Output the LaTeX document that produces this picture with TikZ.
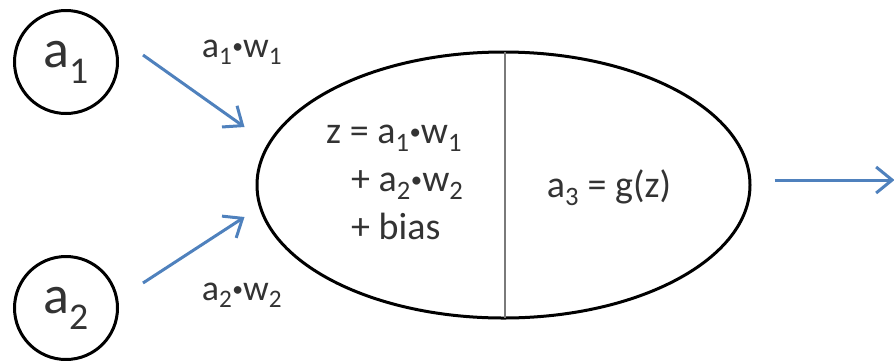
\documentclass[tikz,border=0pt]{standalone}
\usepackage{fontspec}
\setmainfont{Carlito}
\usepackage{tikz}
\usetikzlibrary{shapes.geometric, arrows.meta, calc}
\definecolor{nnblue}{RGB}{79,129,189}
\definecolor{nntext}{HTML}{333333}
\definecolor{nnrule}{HTML}{7A7A7A}
\newcommand{\lowsub}[1]{\textsubscript{#1}}
\newcommand{\mdot}{\raisebox{0.1em}{\scalebox{0.6}{\textbullet}}}

\begin{document}
\begin{tikzpicture}[
    x=1pt, y=-1pt,
    inp/.style={draw,circle,line width=3pt,minimum size=103pt,inner sep=0pt,text=nntext,font=\fontsize{54}{60}\selectfont},
    cell/.style={draw,ellipse,line width=3pt,minimum width=493pt,minimum height=266pt,inner sep=0pt},
    lbl/.style={text=nntext,inner sep=0pt,font=\fontsize{36}{42}\selectfont},
    sig/.style={-{Straight Barb[length=16pt,width=26pt]},line width=3pt,nnblue},
  ]
    \useasboundingbox (0,0) rectangle (894,360);
    \node[inp] (a1) at (66,62) {a\lowsub{1}};
    \node[inp] (a2) at (66,308) {a\lowsub{2}};
    \node[cell] (neuron) at (503.5,185) {};
    \draw[line width=2pt,nnrule] (505,52) -- (505,318);
    \node[lbl, anchor=west, align=left, font=\fontsize{38}{48}\selectfont] (sum) at (326,182)
      {z = a\lowsub{1}\mdot w\lowsub{1}\\\hspace*{25pt}+ a\lowsub{2}\mdot w\lowsub{2}\\\hspace*{25pt}+ bias};
    \node[lbl, anchor=base, font=\fontsize{38}{48}\selectfont] (act) at (609,197) {a\lowsub{3} = g(z)};
    \node[lbl, anchor=base] (w1) at (242,57) {a\lowsub{1}\mdot w\lowsub{1}};
    \node[lbl, anchor=base] (w2) at (242,300) {a\lowsub{2}\mdot w\lowsub{2}};

    \coordinate (in1tail) at ($(a1.center)+(77,-7)$);
    \coordinate (in1tip) at ($(neuron.center)+(-259,-58)$);
    \coordinate (in2tail) at ($(a2.center)+(77,-25)$);
    \coordinate (in2tip) at ($(neuron.center)+(-259,32)$);
    \coordinate (outtip) at ($(neuron.east)+(143,-5)$);

    \draw[sig] (in1tail) -- (in1tip);
    \draw[sig] (in2tail) -- (in2tip);
    \draw[sig, shorten <=23pt] ([yshift=5pt]neuron.east) -- (outtip);
  \end{tikzpicture}
\end{document}
